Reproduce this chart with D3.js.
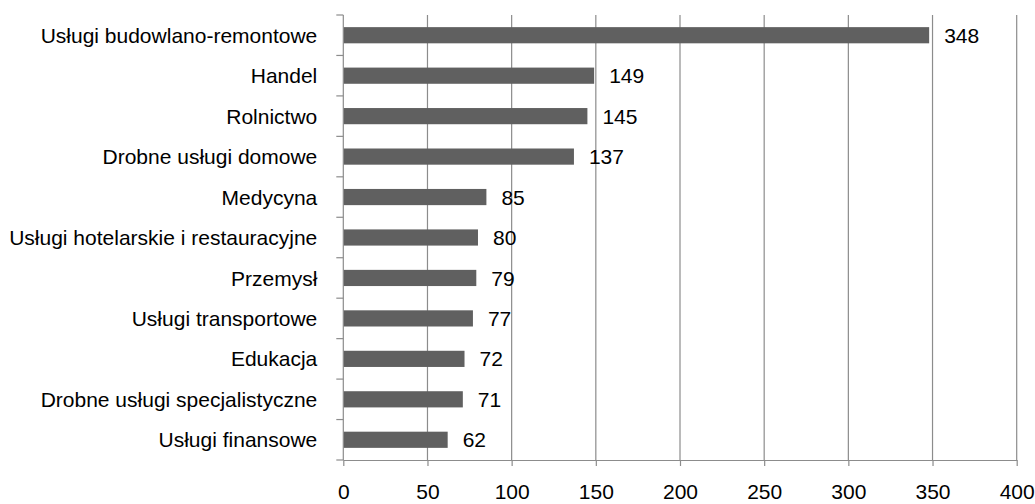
<!DOCTYPE html>
<html>
<head>
<meta charset="utf-8">
<script src="https://cdn.jsdelivr.net/npm/d3@7"></script>
<style>
  body { margin: 0; background: #fff; }
  text { font-family: "Liberation Sans", Arial, sans-serif; font-size: 21px; fill: #000; }
</style>
</head>
<body>
<script>
// Data
var categories = [
    "Usługi budowlano-remontowe",
    "Handel",
    "Rolnictwo",
    "Drobne usługi domowe",
    "Medycyna",
    "Usługi hotelarskie i restauracyjne",
    "Przemysł",
    "Usługi transportowe",
    "Edukacja",
    "Drobne usługi specjalistyczne",
    "Usługi finansowe"
];
var values = [348, 149, 145, 137, 85, 80, 79, 77, 72, 71, 62];
var xTicks = [0, 50, 100, 150, 200, 250, 300, 350, 400];

var width = 1035, height = 504;
var plotLeft = 343.3, plotRight = 1016.7, plotTop = 15, plotBottom = 460;
var gridColor = "#8c8c8c";

var svg = d3.select("body").append("svg")
    .attr("width", width)
    .attr("height", height);

// Scales
var xScale = d3.scaleLinear().domain([0, 400]).range([plotLeft, plotRight]);
var yScale = d3.scaleBand().domain(categories).range([plotTop, plotBottom])
    .paddingInner(0.6).paddingOuter(0.3);

// Vertical grid lines
svg.append("g")
    .selectAll("line")
    .data(xTicks.slice(1))
    .enter().append("line")
    .attr("x1", d => xScale(d))
    .attr("x2", d => xScale(d))
    .attr("y1", plotTop)
    .attr("y2", plotBottom)
    .attr("stroke", gridColor)
    .attr("stroke-width", 1.2);

// Bars
svg.append("g")
    .selectAll("rect")
    .data(values)
    .enter().append("rect")
    .attr("x", xScale(0))
    .attr("y", (d, i) => yScale(categories[i]))
    .attr("width", d => xScale(d) - xScale(0))
    .attr("height", yScale.bandwidth())
    .attr("fill", "#606060");

// Value labels
svg.append("g")
    .selectAll("text")
    .data(values)
    .enter().append("text")
    .attr("x", d => xScale(d) + 15)
    .attr("y", (d, i) => yScale(categories[i]) + yScale.bandwidth() / 2)
    .attr("dy", "0.36em")
    .text(d => d);

// Bottom axis
var xAxis = svg.append("g")
    .attr("transform", `translate(0,${plotBottom})`)
    .call(d3.axisBottom(xScale).tickValues(xTicks).tickSize(6).tickSizeOuter(0).tickPadding(18));
xAxis.select(".domain").attr("stroke", gridColor).attr("stroke-width", 1.2);
xAxis.selectAll(".tick line").attr("stroke", gridColor).attr("stroke-width", 1.2);
xAxis.selectAll(".tick text").style("font-size", "21px").attr("fill", "#000");

// Left axis: category labels and tick marks at band boundaries
var step = yScale.step();
var boundaries = d3.range(categories.length + 1).map(i => plotTop + i * step);
svg.append("line")
    .attr("x1", plotLeft).attr("x2", plotLeft)
    .attr("y1", plotTop).attr("y2", plotBottom)
    .attr("stroke", gridColor)
    .attr("stroke-width", 1.2);
svg.append("g")
    .selectAll("line")
    .data(boundaries)
    .enter().append("line")
    .attr("x1", plotLeft - 7)
    .attr("x2", plotLeft)
    .attr("y1", d => d)
    .attr("y2", d => d)
    .attr("stroke", gridColor)
    .attr("stroke-width", 1.2);
svg.append("g")
    .selectAll("text")
    .data(categories)
    .enter().append("text")
    .attr("x", plotLeft - 26)
    .attr("y", d => yScale(d) + yScale.bandwidth() / 2)
    .attr("dy", "0.36em")
    .attr("text-anchor", "end")
    .text(d => d);
</script>
</body>
</html>
